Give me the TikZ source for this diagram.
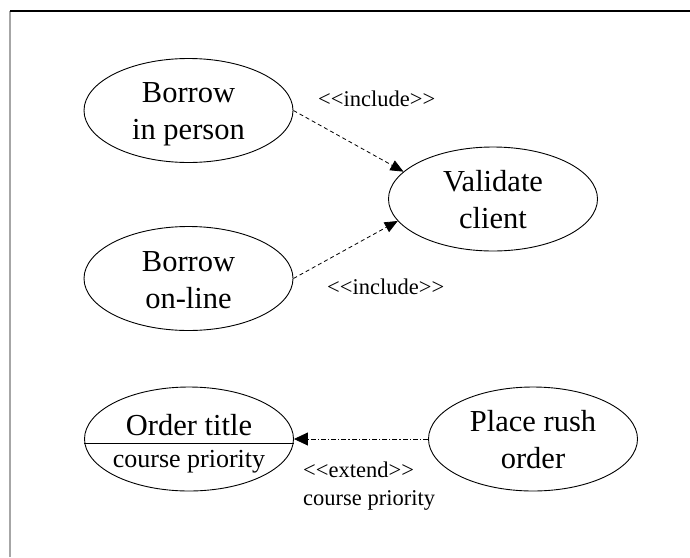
\documentclass[tikz,border=0pt]{standalone}
\usepackage{fontspec}
\setmainfont{Liberation Serif}
\usetikzlibrary{shapes.geometric,arrows.meta}
\tikzset{
  uc/.style={ellipse,draw,line width=0.9pt,inner sep=0pt,minimum width=209pt,minimum height=104pt},
  bigtxt/.style={inner sep=0pt,align=center,font=\fontsize{30.5pt}{37pt}\selectfont},
  midtxt/.style={inner sep=0pt,font=\fontsize{26pt}{31pt}\selectfont},
  smalltxt/.style={inner sep=0pt,anchor=base west,font=\fontsize{22.5pt}{27pt}\selectfont},
  incl/.style={line width=0.8pt,dash pattern=on 4pt off 3pt,-{Triangle[length=13pt,width=11pt]}},
  extd/.style={line width=0.8pt,dash pattern=on 5pt off 2pt on 1.2pt off 2pt,-{Triangle[length=14pt,width=13pt]}}
}
\begin{document}
\begin{tikzpicture}[x=1pt,y=-1pt]
\useasboundingbox (0,0) rectangle (690,557);
% frame
\coordinate (fbl) at (10,557);
\coordinate (ftl) at (10,11);
\coordinate (ftr) at (690,11);
\draw[gray!70,line width=1.6pt] (fbl) -- (ftl);
\draw[black,line width=1.2pt] (ftl) -- (ftr);
% use cases
\node[uc] (bip) at (188.5,110.5) {};
\node[bigtxt] (bipt) at (188.5,114.7) {Borrow\\in person};
\node[uc] (bol) at (188.5,278.5) {};
\node[bigtxt] (bolt) at (188.5,280.5) {Borrow\\on-line};
\node[uc] (val) at (493,199) {};
\node[bigtxt] (valt) at (493,200) {Validate\\client};
\node[uc] (rush) at (533,439) {};
\node[bigtxt] (rusht) at (533,440) {Place rush\\order};
\node[uc] (ord) at (189,439) {};
\node[bigtxt,anchor=base] (ordt) at (189,435) {Order title};
\node[midtxt,anchor=base] (ordc) at (189,467) {course priority};
\draw[line width=0.9pt] ([yshift=-4pt]ord.west) -- ([yshift=-4pt]ord.east);
% connectors
\draw[incl] (bip.east) -- (val.163);
\draw[incl] (bol.east) -- (val.193);
\draw[extd] (rush.west) -- (ord.east);
% labels
\node[smalltxt] (l1) at (318,106) {<{}<include>{}>};
\node[smalltxt] (l2) at (327,294) {<{}<include>{}>};
\node[smalltxt] (l3) at (303,477) {<{}<extend>{}>};
\node[smalltxt] (l4) at (303,505) {course priority};
\end{tikzpicture}
\end{document}
